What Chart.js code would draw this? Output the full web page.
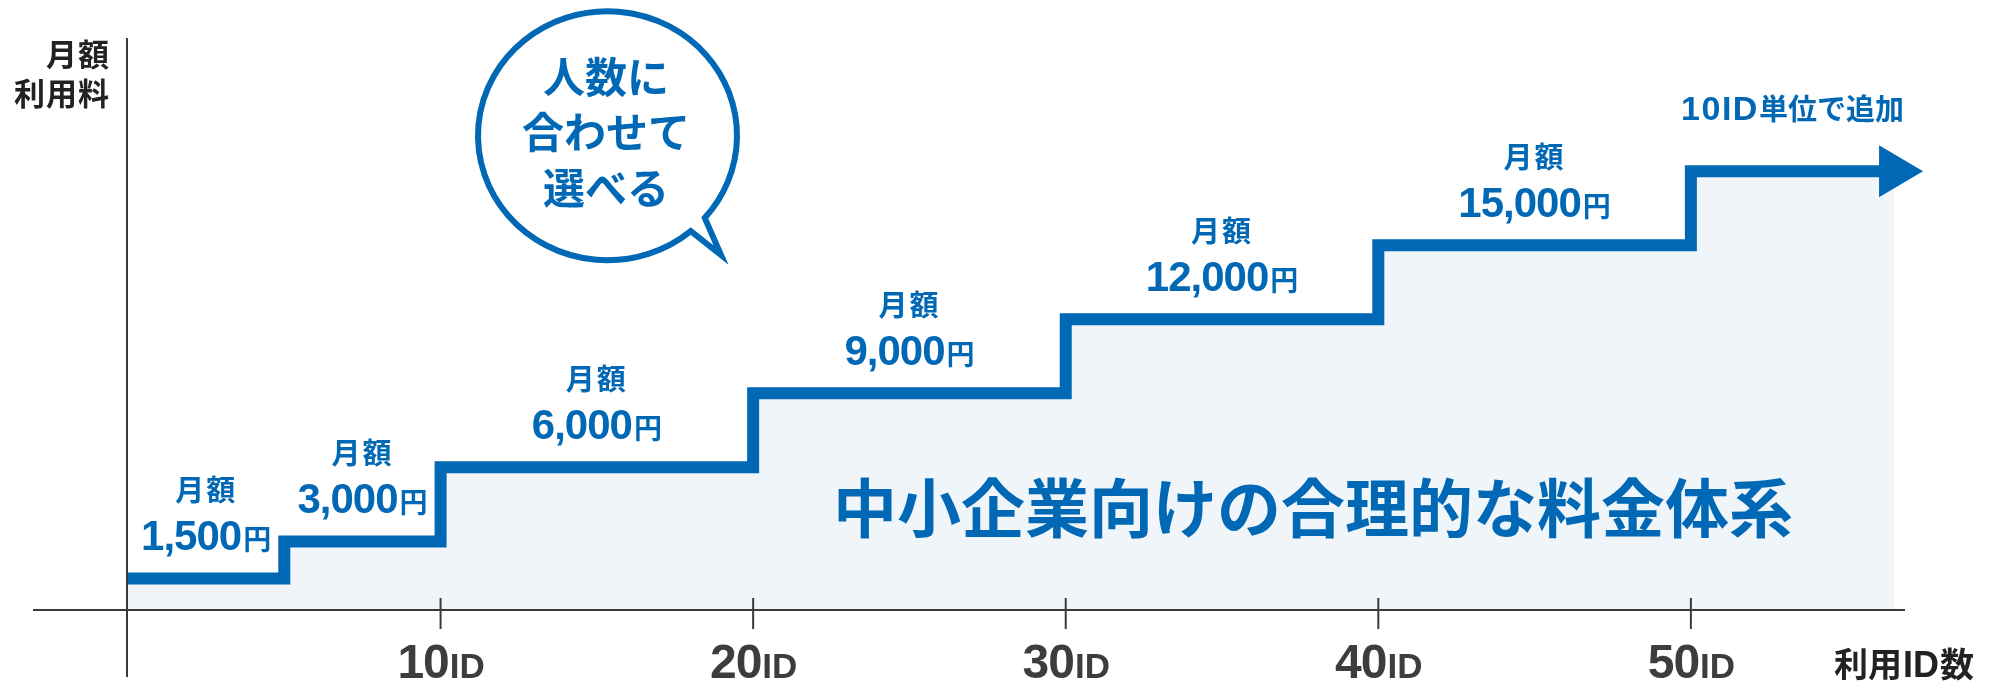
<!DOCTYPE html>
<html lang="ja">
<head>
<meta charset="utf-8">
<title>料金体系</title>
<script src="https://cdn.jsdelivr.net/npm/chart.js@4"></script>
<style>
  html, body { margin: 0; padding: 0; background: #ffffff; }
  #wrap { width: 1990px; height: 684px; }
</style>
</head>
<body>
<div id="wrap"><canvas id="priceChart" width="1990" height="684"></canvas></div>
<script>
// 利用ID数と月額利用料（階段）
const idCounts = [0, 5, 10, 20, 30, 40, 50, 56.5];
const monthlyFees = [1500, 3000, 6000, 9000, 12000, 15000, 18000, 18000];
const feeLabels = ['1,500', '3,000', '6,000', '9,000', '12,000', '15,000'];
const tickValues = [10, 20, 30, 40, 50];
const tickLabels = ['10', '20', '30', '40', '50'];

const BLUE = '#0068b4';
const FILL = '#f0f5fa';
const DARK = '#222222';
const GRAY = '#3d3d3d';
const LATIN = '"Liberation Sans", Arial, sans-serif';
const CJK = '"Noto Sans CJK JP", sans-serif';

function textW(ctx, s, font, spacing) {
    ctx.font = font;
    ctx.letterSpacing = (spacing || 0) + 'px';
    const w = ctx.measureText(s).width;
    ctx.letterSpacing = '0px';
    return w;
}

function drawText(ctx, s, x, y, font, color, spacing) {
    ctx.font = font;
    ctx.fillStyle = color;
    ctx.letterSpacing = (spacing || 0) + 'px';
    ctx.fillText(s, x, y);
    ctx.letterSpacing = '0px';
}

const decorPlugin = {
    id: 'decor',
    afterDatasetsDraw(chart) {
        const ctx = chart.ctx;
        const xs = chart.scales.x;
        const ys = chart.scales.y;
        const area = chart.chartArea;
        ctx.save();

        // 軸
        ctx.strokeStyle = '#3a3a3a';
        ctx.lineWidth = 2;
        ctx.beginPath();
        ctx.moveTo(area.left - 95, area.bottom);
        ctx.lineTo(area.right, area.bottom);
        const x0 = xs.getPixelForValue(0) - 1;
        ctx.moveTo(x0, area.top);
        ctx.lineTo(x0, area.bottom + 67);
        ctx.stroke();

        // 目盛とラベル
        ctx.textAlign = 'left';
        ctx.textBaseline = 'alphabetic';
        tickValues.forEach((v, i) => {
            const px = xs.getPixelForValue(v);
            ctx.beginPath();
            ctx.moveTo(px, area.bottom - 12);
            ctx.lineTo(px, area.bottom + 19);
            ctx.stroke();
            const f1 = 'bold 48px ' + LATIN;
            const f2 = 'bold 35px ' + LATIN;
            const w1 = textW(ctx, tickLabels[i], f1, -1);
            const w2 = textW(ctx, 'ID', f2, 0);
            const sx = px - (w1 + w2) / 2;
            drawText(ctx, tickLabels[i], sx, 678, f1, GRAY, -1);
            drawText(ctx, 'ID', sx + w1 + 1, 678, f2, GRAY, 0);
        });

        // 矢印
        const meta = chart.getDatasetMeta(0);
        const last = meta.data[meta.data.length - 1];
        ctx.fillStyle = BLUE;
        ctx.beginPath();
        ctx.moveTo(last.x - 15, last.y - 26);
        ctx.lineTo(last.x + 29, last.y);
        ctx.lineTo(last.x - 15, last.y + 26);
        ctx.closePath();
        ctx.fill();

        // 月額ラベル
        feeLabels.forEach((s, i) => {
            const cx = (xs.getPixelForValue(idCounts[i]) + xs.getPixelForValue(idCounts[i + 1])) / 2;
            const ly = ys.getPixelForValue(monthlyFees[i]);
            const fNum = 'bold 42px ' + LATIN;
            const fYen = 'bold 28px ' + CJK;
            const wNum = textW(ctx, s, fNum, -1);
            const wYen = textW(ctx, '円', fYen, 0);
            const sx = cx - (wNum + 2 + wYen) / 2;
            drawText(ctx, s, sx, ly - 28, fNum, BLUE, -1);
            drawText(ctx, '円', sx + wNum + 2, ly - 28, fYen, BLUE, 0);
            ctx.textAlign = 'center';
            drawText(ctx, '月額', cx, ly - 77, 'bold 29px ' + CJK, BLUE, 2);
            ctx.textAlign = 'left';
        });

        // 10ID単位で追加
        {
            const n = idCounts.length;
            const cx = (xs.getPixelForValue(idCounts[n - 2]) + xs.getPixelForValue(idCounts[n - 1])) / 2;
            const ly = ys.getPixelForValue(monthlyFees[n - 1]);
            const fA = 'bold 34px ' + LATIN;
            const fB = 'bold 29px ' + CJK;
            const wA = textW(ctx, '10ID', fA, 1.5);
            const wB = textW(ctx, '単位で追加', fB, 0);
            const sx = cx - (wA + wB) / 2;
            drawText(ctx, '10ID', sx, ly - 51, fA, BLUE, 1.5);
            drawText(ctx, '単位で追加', sx + wA, ly - 51, fB, BLUE, 0);
        }

        // 軸タイトル
        ctx.textAlign = 'right';
        drawText(ctx, '月額', 110, 66, 'bold 31px ' + CJK, DARK, 1);
        drawText(ctx, '利用料', 110, 105, 'bold 31px ' + CJK, DARK, 1);
        {
            const fC = 'bold 34px ' + CJK;
            const fL = 'bold 36px ' + LATIN;
            const wSu = textW(ctx, '数', fC, 0);
            const wId = textW(ctx, 'ID', fL, 0);
            let rx = 1974;
            drawText(ctx, '数', rx, 677, fC, DARK, 0);
            rx -= wSu + 1;
            drawText(ctx, 'ID', rx, 677, fL, DARK, 0);
            rx -= wId + 1;
            drawText(ctx, '利用', rx, 677, fC, DARK, 0);
        }

        // キャッチコピー
        ctx.textAlign = 'center';
        ctx.textBaseline = 'middle';
        drawText(ctx, '中小企業向けの合理的な料金体系', 1313, 508, 'bold 64px ' + CJK, BLUE, 0);

        // 吹き出し
        const bx = 607.5, by = 135.7, rx = 129.5, ry = 124.5;
        const a1 = 50 * Math.PI / 180;
        const a2 = 41.3 * Math.PI / 180;
        ctx.beginPath();
        ctx.ellipse(bx, by, rx, ry, 0, a1, a2 + Math.PI * 2);
        ctx.lineTo(721, 255);
        ctx.closePath();
        ctx.fillStyle = '#ffffff';
        ctx.fill();
        ctx.strokeStyle = BLUE;
        ctx.lineWidth = 6;
        ctx.lineJoin = 'miter';
        ctx.stroke();
        const bubbleLines = ['人数に', '合わせて', '選べる'];
        const bubbleY = [77, 132.5, 188.5];
        bubbleLines.forEach((s, i) => {
            drawText(ctx, s, 606, bubbleY[i], 'bold 42px ' + CJK, BLUE, 0);
        });

        ctx.restore();
    }
};

new Chart(document.getElementById('priceChart'), {
    type: 'line',
    data: {
        datasets: [{
            data: idCounts.map((x, i) => ({ x: x, y: monthlyFees[i] })),
            stepped: 'before',
            borderColor: BLUE,
            borderWidth: 12,
            borderJoinStyle: 'miter',
            borderCapStyle: 'butt',
            backgroundColor: FILL,
            fill: 'start',
            pointRadius: 0,
            tension: 0
        }]
    },
    options: {
        responsive: false,
        devicePixelRatio: 1,
        animation: false,
        layout: { padding: { left: 128, right: 85, top: 38, bottom: 74 } },
        plugins: {
            legend: { display: false },
            tooltip: { enabled: false }
        },
        scales: {
            x: { type: 'linear', min: 0, max: 56.85, display: false },
            y: { min: 220, max: 23400, display: false }
        }
    },
    plugins: [decorPlugin]
});
</script>
</body>
</html>
